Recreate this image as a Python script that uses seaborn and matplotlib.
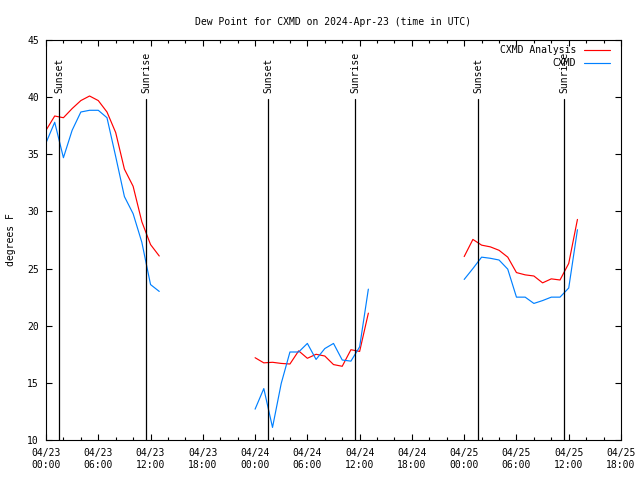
import matplotlib
matplotlib.use("Agg")
import matplotlib.pyplot as plt
from matplotlib.ticker import MultipleLocator, FixedLocator
import seaborn as sns
import pandas as pd

# ---- data (hours since 2024-04-23 00:00 UTC) ----
hours_day1 = [0, 1, 2, 3, 4, 5, 6, 7, 8, 9, 10, 11, 12, 13]
analysis_day1 = [37.1, 38.35, 38.2, 39.0, 39.7, 40.1, 39.7, 38.7, 36.9, 33.7, 32.2, 29.1, 27.1, 26.1]
obs_day1 = [36.0, 37.8, 34.7, 37.1, 38.7, 38.85, 38.85, 38.2, 34.8, 31.3, 29.8, 27.3, 23.6, 23.0]

hours_day2 = [24, 25, 26, 27, 28, 29, 30, 31, 32, 33, 34, 35, 36, 37]
analysis_day2 = [17.2, 16.75, 16.8, 16.7, 16.65, 17.8, 17.15, 17.5, 17.35, 16.6, 16.45, 17.9, 17.75, 21.1]
obs_day2 = [12.7, 14.5, 11.1, 14.95, 17.7, 17.7, 18.45, 17.05, 18.0, 18.45, 17.0, 16.9, 18.15, 23.2]

hours_day3 = [48, 49, 50, 51, 52, 53, 54, 55, 56, 57, 58, 59, 60, 61]
analysis_day3 = [26.05, 27.55, 27.05, 26.9, 26.6, 26.0, 24.65, 24.45, 24.35, 23.75, 24.1, 24.0, 25.45, 29.3]
obs_day3 = [24.05, 25.0, 26.0, 25.9, 25.75, 24.95, 22.5, 22.5, 21.95, 22.2, 22.5, 22.5, 23.3, 28.4]

sunset_hours = [1.53, 25.52, 49.6]
sunrise_hours = [11.48, 35.5, 59.5]

xtick_hours = [0, 6, 12, 18, 24, 30, 36, 42, 48, 54, 60, 66]
xtick_labels = ["04/23\n00:00", "04/23\n06:00", "04/23\n12:00", "04/23\n18:00",
                "04/24\n00:00", "04/24\n06:00", "04/24\n12:00", "04/24\n18:00",
                "04/25\n00:00", "04/25\n06:00", "04/25\n12:00", "04/25\n18:00"]

series_names = ["CXMD Analysis", "CXMD"]
colors = {"CXMD Analysis": "#ff0000", "CXMD": "#0080ff"}

rows = []
for seg, (h, a, o) in enumerate([(hours_day1, analysis_day1, obs_day1),
                                 (hours_day2, analysis_day2, obs_day2),
                                 (hours_day3, analysis_day3, obs_day3)]):
    for hh, v in zip(h, a):
        rows.append({"hour": hh, "dewpoint": v, "series": "CXMD Analysis", "segment": seg})
    for hh, v in zip(h, o):
        rows.append({"hour": hh, "dewpoint": v, "series": "CXMD", "segment": seg})
df = pd.DataFrame(rows)

sns.set_style("ticks")
plt.rcParams["font.family"] = ["DejaVu Sans Mono"]
plt.rcParams["font.size"] = 7
plt.rcParams["text.color"] = "black"
plt.rcParams["axes.labelcolor"] = "black"
plt.rcParams["xtick.color"] = "black"
plt.rcParams["ytick.color"] = "black"

fig = plt.figure(figsize=(6.4, 4.8), dpi=100)
ax = fig.add_axes([46 / 640, 40 / 480, 575 / 640, 400 / 480])

sns.lineplot(data=df, x="hour", y="dewpoint", hue="series", hue_order=series_names,
             units="segment", estimator=None, palette=colors, linewidth=0.85,
             ax=ax, legend=True)

ax.set_xlim(0, 66)
ax.set_ylim(10, 45)

# sunrise / sunset markers
line_top = 39.8
label_y = 40.35
for h in sunset_hours:
    ax.plot([h, h], [10, line_top], color="black", linewidth=0.9)
    ax.text(h, label_y, "Sunset", rotation=90, ha="center", va="bottom", fontsize=7)
for h in sunrise_hours:
    ax.plot([h, h], [10, line_top], color="black", linewidth=0.9)
    ax.text(h, label_y, "Sunrise", rotation=90, ha="center", va="bottom", fontsize=7)

ax.xaxis.set_major_locator(FixedLocator(xtick_hours))
ax.set_xticklabels(xtick_labels)
ax.xaxis.set_minor_locator(MultipleLocator(2))
ax.yaxis.set_major_locator(MultipleLocator(5))

ax.tick_params(axis="both", which="both", direction="in", top=True, right=True,
               colors="black", labelsize=7)
ax.tick_params(axis="both", which="major", length=4, width=0.8)
ax.tick_params(axis="both", which="minor", length=2.5, width=0.8)
ax.tick_params(axis="x", which="major", pad=6)
ax.tick_params(axis="y", which="major", pad=5)

for s in ax.spines.values():
    s.set_visible(True)
    s.set_color("black")
    s.set_linewidth(0.8)

ax.set_xlabel("")
ax.set_ylabel("degrees F", fontsize=7, labelpad=8)
ax.set_title("Dew Point for CXMD on 2024-Apr-23 (time in UTC)", fontsize=7, pad=11)

handles, labels = ax.get_legend_handles_labels()
ax.legend(handles, labels, loc="upper right", bbox_to_anchor=(0.99, 1.0),
          markerfirst=False, frameon=False, fontsize=7, handlelength=2.7,
          handletextpad=0.8, labelspacing=0.3, borderaxespad=0.3, borderpad=0.25)

fig.savefig("out.png", dpi=100)
